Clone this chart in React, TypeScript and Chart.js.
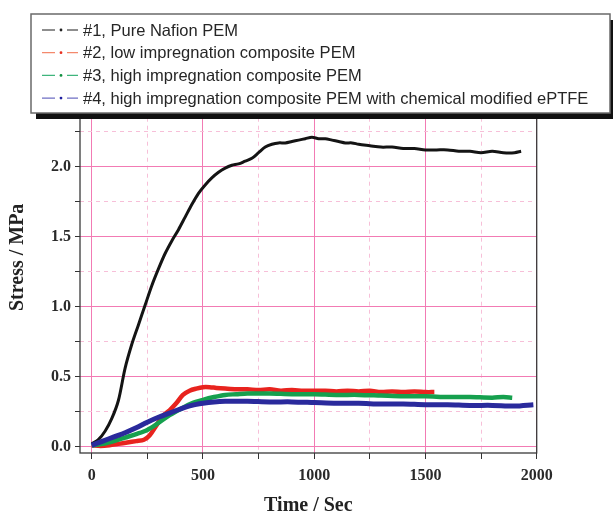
import { useEffect, useRef } from 'react';
import { Chart, registerables } from 'chart.js';
Chart.register(...registerables);

const legendLabels = [
  '#1, Pure Nafion PEM',
  '#2, low impregnation composite PEM',
  '#3, high impregnation composite PEM',
  '#4, high impregnation composite PEM with chemical modified ePTFE',
];

const time1 = [0, 30, 60, 90, 120, 150, 180, 210, 240, 270, 300, 330, 360, 390, 420, 450, 480, 510, 540, 570, 600, 630, 660, 690, 720, 750, 780, 810, 840, 870, 900, 930, 960, 990, 1020, 1050, 1080, 1110, 1140, 1170, 1200, 1250, 1300, 1350, 1400, 1450, 1500, 1550, 1600, 1650, 1700, 1750, 1800, 1850, 1900, 1930];
const stress1 = [0.02, 0.05, 0.11, 0.2, 0.33, 0.56, 0.73, 0.87, 1.01, 1.15, 1.27, 1.38, 1.47, 1.55, 1.64, 1.73, 1.81, 1.87, 1.92, 1.96, 1.99, 2.01, 2.02, 2.04, 2.06, 2.1, 2.14, 2.16, 2.17, 2.17, 2.18, 2.19, 2.2, 2.21, 2.2, 2.2, 2.19, 2.18, 2.17, 2.17, 2.16, 2.15, 2.14, 2.14, 2.13, 2.13, 2.12, 2.12, 2.12, 2.11, 2.11, 2.1, 2.11, 2.1, 2.1, 2.11];

const time2 = [0, 40, 80, 120, 160, 200, 235, 260, 290, 320, 350, 380, 410, 440, 470, 500, 530, 560, 600, 650, 700, 750, 800, 850, 900, 950, 1000, 1050, 1100, 1150, 1200, 1250, 1300, 1350, 1400, 1450, 1500, 1540];
const stress2 = [0.01, 0.005, 0.01, 0.02, 0.03, 0.04, 0.05, 0.08, 0.15, 0.22, 0.26, 0.31, 0.37, 0.4, 0.415, 0.425, 0.425, 0.42, 0.415, 0.41, 0.41, 0.405, 0.41, 0.4, 0.405, 0.4, 0.4, 0.4, 0.395, 0.4, 0.395, 0.4, 0.39, 0.395, 0.39, 0.395, 0.39, 0.39];

const time3 = [0, 50, 100, 150, 200, 250, 300, 350, 400, 450, 500, 550, 600, 650, 700, 800, 900, 1000, 1100, 1200, 1300, 1400, 1500, 1600, 1700, 1800, 1850, 1890];
const stress3 = [0.01, 0.02, 0.04, 0.065, 0.09, 0.12, 0.17, 0.225, 0.27, 0.31, 0.335, 0.355, 0.37, 0.375, 0.38, 0.38, 0.375, 0.375, 0.37, 0.37, 0.365, 0.36, 0.36, 0.355, 0.355, 0.35, 0.355, 0.35];

const time4 = [0, 50, 100, 150, 200, 250, 300, 350, 400, 450, 500, 550, 600, 650, 700, 800, 900, 1000, 1100, 1200, 1300, 1400, 1500, 1600, 1700, 1800, 1900, 1985];
const stress4 = [0.01, 0.04, 0.07, 0.1, 0.135, 0.175, 0.21, 0.24, 0.27, 0.295, 0.31, 0.32, 0.325, 0.325, 0.325, 0.32, 0.32, 0.315, 0.31, 0.31, 0.305, 0.305, 0.3, 0.3, 0.295, 0.295, 0.29, 0.3];

const xTickValues = [0, 250, 500, 750, 1000, 1250, 1500, 1750, 2000];
const yTickValues = [0, 0.25, 0.5, 0.75, 1, 1.25, 1.5, 1.75, 2, 2.25, 2.5];

const lineColors = ['#141414', '#e8231e', '#16a04e', '#2a2a9c'];
const legendColors = ['#6a6a6a', '#f4896c', '#3fb57c', '#6f6fc4'];
const legendDotColors = ['#222222', '#e83020', '#109040', '#2020a0'];

const xMajor = 500;
const yMajor = 0.5;

const isMult = (v: number, m: number) => Math.abs(v / m - Math.round(v / m)) < 1e-6;

const toPts = (t: number[], s: number[]) => t.map((x, i) => ({ x, y: s[i] }));

const frameAndLegend = {
  id: 'frameAndLegend',
  afterDatasetsDraw(chart: any) {
    const { ctx, chartArea } = chart;
    ctx.save();
    ctx.strokeStyle = '#3a3a3a';
    ctx.lineWidth = 1.3;
    ctx.strokeRect(chartArea.left, chartArea.top, chartArea.right - chartArea.left, chartArea.bottom - chartArea.top);
    ctx.restore();
  },
  afterDraw(chart: any) {
    const { ctx } = chart;
    ctx.save();
    const bx = 31, by = 14, bw = 579, bh = 99;
    ctx.fillStyle = '#111';
    ctx.fillRect(bx + 5, by + 6, bw, bh);
    ctx.fillStyle = '#fff';
    ctx.fillRect(bx, by, bw, bh);
    ctx.strokeStyle = '#6a6a6a';
    ctx.lineWidth = 1.5;
    ctx.strokeRect(bx, by, bw, bh);
    ctx.font = '16.5px "Liberation Sans", Arial, sans-serif';
    ctx.textBaseline = 'middle';
    legendLabels.forEach((lab, i) => {
      const y = 30 + i * 22.7;
      ctx.strokeStyle = legendColors[i];
      ctx.lineWidth = 1.3;
      ctx.beginPath();
      ctx.moveTo(42, y); ctx.lineTo(55, y);
      ctx.moveTo(67, y); ctx.lineTo(78, y);
      ctx.stroke();
      ctx.fillStyle = legendDotColors[i];
      ctx.beginPath();
      ctx.arc(61, y, 1.4, 0, Math.PI * 2);
      ctx.fill();
      ctx.fillStyle = '#262626';
      ctx.fillText(lab, 83, y + 1);
    });
    ctx.restore();
  },
};

export default function App() {
  const ref = useRef<HTMLCanvasElement>(null);
  useEffect(() => {
    if (!ref.current) return;
    const series = [
      { t: time1, s: stress1, w: 3, order: 3 },
      { t: time2, s: stress2, w: 4.5, order: 2 },
      { t: time3, s: stress3, w: 4.5, order: 1 },
      { t: time4, s: stress4, w: 5, order: 0 },
    ];
    const serif = '"Liberation Serif", "Times New Roman", serif';
    const chart = new Chart(ref.current, {
      type: 'line',
      data: {
        datasets: series.map((d, i) => ({
          label: legendLabels[i],
          data: toPts(d.t, d.s),
          borderColor: lineColors[i],
          backgroundColor: lineColors[i],
          borderWidth: d.w,
          pointRadius: 0,
          tension: 0.3,
          fill: false,
          order: d.order,
        })),
      },
      options: {
        animation: false,
        responsive: false,
        layout: { padding: { top: 61.7, right: 76.3, left: 0, bottom: 0 } },
        plugins: { legend: { display: false }, tooltip: { enabled: false } },
        scales: {
          x: {
            type: 'linear',
            min: -52.5,
            max: 2000,
            afterFit: (s: any) => { s.height = 64; },
            afterBuildTicks: (s: any) => { s.ticks = xTickValues.map((v) => ({ value: v })); },
            ticks: {
              autoSkip: false,
              maxRotation: 0,
              padding: 7,
              color: '#2a2a2a',
              font: { family: serif, size: 16, weight: 'bold' },
              callback: (v: any) => (isMult(Number(v), xMajor) ? String(v) : ''),
            },
            grid: {
              color: (c: any) => (isMult(c.tick.value, xMajor) ? '#f27bb4' : '#f7bfd8'),
              lineWidth: 1,
              tickLength: 6,
              tickColor: '#333',
            },
            border: {
              display: false,
              dash: (c: any) => (c.tick && isMult(c.tick.value, xMajor) ? [] : [4, 4]),
            },
            title: {
              display: true,
              text: 'Time / Sec',
              color: '#222',
              font: { family: serif, size: 20, weight: 'bold', lineHeight: 1 },
              padding: { top: 0, bottom: 1 },
            },
          },
          y: {
            type: 'linear',
            min: -0.045,
            max: 2.75,
            afterFit: (s: any) => { s.width = 80; },
            afterBuildTicks: (s: any) => { s.ticks = yTickValues.map((v) => ({ value: v })); },
            ticks: {
              autoSkip: false,
              padding: 4,
              color: '#2a2a2a',
              font: { family: serif, size: 16, weight: 'bold' },
              callback: (v: any) => (isMult(Number(v), yMajor) ? Number(v).toFixed(1) : ''),
            },
            grid: {
              color: (c: any) => (isMult(c.tick.value, yMajor) ? '#f27bb4' : '#f7bfd8'),
              lineWidth: 1,
              tickLength: 5,
              tickColor: '#333',
            },
            border: {
              display: false,
              dash: (c: any) => (c.tick && isMult(c.tick.value, yMajor) ? [] : [4, 4]),
            },
            title: {
              display: true,
              text: 'Stress / MPa',
              color: '#222',
              font: { family: serif, size: 20, weight: 'bold', lineHeight: 1 },
              padding: { top: 8, bottom: 0 },
            },
          },
        },
      },
      plugins: [frameAndLegend],
    } as any);
    return () => chart.destroy();
  }, []);
  return (
    <div style={{ position: 'absolute', left: 0, top: 0, width: 613, height: 517, background: '#fff' }}>
      <canvas ref={ref} width={613} height={517} />
    </div>
  );
}
